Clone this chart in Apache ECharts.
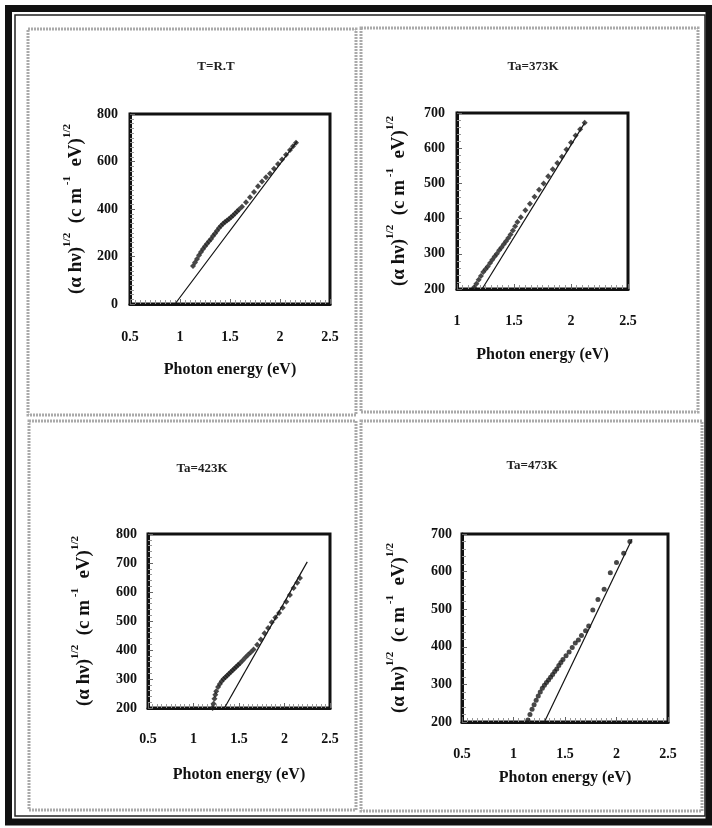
<!DOCTYPE html>
<html>
<head>
<meta charset="utf-8">
<script src="https://cdn.jsdelivr.net/npm/echarts@6/dist/echarts.min.js"></script>
<style>
html,body{margin:0;padding:0;background:#fff;}
#chart{width:712px;height:828px;}
</style>
</head>
<body>
<div id="chart"></div>
<script>
// ---- Data ----
const panelTitles = ['T=R.T', 'Ta=373K', 'Ta=423K', 'Ta=473K'];
const xTitle = 'Photon energy (eV)';

// T = R.T  : measured (alpha h nu)^1/2 points
const rtX = [1.13,1.15,1.17,1.19,1.21,1.23,1.25,1.27,1.29,1.31,1.33,1.35,1.37,1.39,1.41,1.43,1.45,1.47,1.49,1.51,1.53,1.55,1.57,1.59,1.62,1.66,1.70,1.74,1.78,1.82,1.86,1.90,1.94,1.98,2.02,2.06,2.10,2.13,2.16];
const rtY = [160,175,190,205,219,232,243,254,264,274,286,297,308,320,330,338,345,352,358,365,373,381,390,398,410,428,450,472,496,516,534,550,570,590,608,628,648,664,679];
const rtFitX = [0.95, 2.17];
const rtFitY = [0, 685];

// Ta = 373 K
const t373X = [1.15,1.17,1.19,1.21,1.23,1.25,1.27,1.29,1.31,1.33,1.35,1.37,1.39,1.41,1.43,1.45,1.47,1.49,1.51,1.53,1.56,1.60,1.64,1.68,1.72,1.76,1.80,1.84,1.88,1.92,1.96,2.00,2.04,2.08,2.12];
const t373Y = [205,215,226,237,248,256,264,274,283,292,300,310,318,327,336,345,355,366,378,390,404,424,442,462,482,500,520,540,558,576,596,616,636,654,672];
const t373FitX = [1.22, 2.12];
const t373FitY = [200, 672];

// Ta = 423 K
const t423X = [1.21,1.22,1.23,1.24,1.25,1.27,1.29,1.31,1.33,1.35,1.37,1.39,1.41,1.43,1.45,1.47,1.49,1.51,1.54,1.57,1.60,1.63,1.66,1.70,1.74,1.78,1.82,1.86,1.90,1.94,1.98,2.02,2.06,2.10,2.14,2.17];
const t423Y = [200,215,232,246,258,272,283,292,300,306,312,318,324,330,336,342,348,354,364,374,384,392,402,418,436,458,476,496,512,528,546,566,590,614,632,648];
const t423FitX = [1.34, 2.25];
const t423FitY = [200, 704];

// Ta = 473 K
const t473X = [1.14,1.16,1.18,1.20,1.22,1.24,1.26,1.28,1.30,1.32,1.34,1.36,1.38,1.40,1.42,1.44,1.46,1.48,1.51,1.54,1.57,1.60,1.63,1.66,1.70,1.73,1.77,1.82,1.88,1.94,2.00,2.07,2.13];
const t473Y = [205,220,234,246,258,269,280,290,298,305,312,319,326,334,341,350,358,366,376,386,398,410,418,430,443,455,498,526,553,597,624,649,680];
const t473FitX = [1.30, 2.15];
const t473FitY = [200, 686];

// Axis ranges / ticks
const xMin = [0.5, 1, 0.5, 0.5];
const xMax = [2.5, 2.5, 2.5, 2.5];
const xStep = [0.5, 0.5, 0.5, 0.5];
const yMin = [0, 200, 200, 200];
const yMax = [800, 700, 800, 700];
const yStep = [200, 100, 100, 100];

// ---- Build option ----
const pts = (xs, ys) => xs.map((x, i) => [x, ys[i]]);
const measured = [pts(rtX, rtY), pts(t373X, t373Y), pts(t423X, t423Y), pts(t473X, t473Y)];
const fits = [pts(rtFitX, rtFitY), pts(t373FitX, t373FitY), pts(t423FitX, t423FitY), pts(t473FitX, t473FitY)];

const FONT = '"Liberation Serif", "DejaVu Serif", serif';
const grids = [
  {left: 130, top: 114, width: 200, height: 190},
  {left: 457, top: 113, width: 171, height: 176},
  {left: 148, top: 534, width: 182, height: 174},
  {left: 462, top: 534, width: 206, height: 188}
];
const yNameGap = [44, 48, 54, 53];
const xNameGap = [58, 58, 59, 48];
const xLabelMargin = [26, 25, 24, 25];
const yLabelMargin = [12, 12, 11, 10];
const titlePos = [[211, 55], [528, 55], [197, 457], [527, 454]];

const yName = '{n|(α hν)}{s|1/2}{n|  (c m}{s| -1}{n|  eV)}{s|1/2}';
const yRich = {
  n: {fontFamily: FONT, fontWeight: 'bold', fontSize: 19, color: '#111', lineHeight: 24, verticalAlign: 'bottom'},
  s: {fontFamily: FONT, fontWeight: 'bold', fontSize: 11, color: '#111', lineHeight: 24, verticalAlign: 'top'}
};

const option = {
  backgroundColor: '#fff',
  animation: false,
  title: panelTitles.map((t, i) => ({
    text: t, left: titlePos[i][0], top: titlePos[i][1], textAlign: 'center',
    textStyle: {fontFamily: FONT, fontWeight: 'bold', fontSize: 13, color: '#222'}
  })),
  grid: grids.map(g => Object.assign({show: true, borderColor: '#111', borderWidth: 3, backgroundColor: '#fff'}, g)),
  xAxis: grids.map((g, i) => ({
    type: 'value', gridIndex: i, min: xMin[i], max: xMax[i], interval: xStep[i],
    name: xTitle, nameLocation: 'middle', nameGap: xNameGap[i],
    nameTextStyle: {fontFamily: FONT, fontWeight: 'bold', fontSize: 16, color: '#111'},
    axisLine: {show: true, lineStyle: {color: '#111', width: 3}},
    axisTick: {show: true, inside: true, length: 5, lineStyle: {color: '#666', width: 1}},
    minorTick: {show: true, splitNumber: 10, length: 4, lineStyle: {color: '#999', width: 1}},
    axisLabel: {fontFamily: FONT, fontWeight: 'bold', fontSize: 14, color: '#111', margin: xLabelMargin[i],
      formatter: v => String(v)},
    splitLine: {show: false}
  })),
  yAxis: grids.map((g, i) => ({
    type: 'value', gridIndex: i, min: yMin[i], max: yMax[i], interval: yStep[i],
    name: yName, nameLocation: 'middle', nameGap: yNameGap[i], nameRotate: 90,
    nameTextStyle: {rich: yRich},
    axisLine: {show: true, lineStyle: {color: '#111', width: 3}},
    axisTick: {show: true, inside: true, length: 5, lineStyle: {color: '#666', width: 1}},
    minorTick: {show: true, splitNumber: i === 0 ? 10 : 5, length: 4, lineStyle: {color: '#999', width: 1}},
    axisLabel: {fontFamily: FONT, fontWeight: 'bold', fontSize: 14, color: '#111', margin: yLabelMargin[i]},
    splitLine: {show: false}
  })),
  series: [].concat(
    measured.map((d, i) => ({
      type: 'scatter', xAxisIndex: i, yAxisIndex: i, data: d,
      symbol: i === 3 ? 'circle' : 'diamond', symbolSize: i === 3 ? 5 : 6,
      itemStyle: {color: '#1a1a1a'}, z: 3
    })),
    fits.map((d, i) => ({
      type: 'line', xAxisIndex: i, yAxisIndex: i, data: d, symbol: 'none',
      lineStyle: {color: '#111', width: 1.2}, z: 2
    }))
  ),
  graphic: [
    {type: 'rect', shape: {x: 8.5, y: 8.5, width: 700.5, height: 813.5}, style: {fill: null, stroke: '#111', lineWidth: 7}, silent: true},
    {type: 'rect', shape: {x: 15, y: 15, width: 690, height: 801}, style: {fill: null, stroke: '#222', lineWidth: 1.5}, silent: true},
    {type: 'rect', shape: {x: 28, y: 29, width: 328, height: 386}, style: {fill: null, stroke: '#aaa', lineWidth: 3, lineDash: [2, 1]}, silent: true},
    {type: 'rect', shape: {x: 361, y: 28, width: 337, height: 384}, style: {fill: null, stroke: '#aaa', lineWidth: 3, lineDash: [2, 1]}, silent: true},
    {type: 'rect', shape: {x: 29, y: 421, width: 327, height: 389}, style: {fill: null, stroke: '#aaa', lineWidth: 3, lineDash: [2, 1]}, silent: true},
    {type: 'rect', shape: {x: 361, y: 421, width: 341, height: 390}, style: {fill: null, stroke: '#aaa', lineWidth: 3, lineDash: [2, 1]}, silent: true}
  ]
};

const chart = echarts.init(document.getElementById('chart'), null, {renderer: 'canvas'});
chart.setOption(option);
</script>
</body>
</html>
